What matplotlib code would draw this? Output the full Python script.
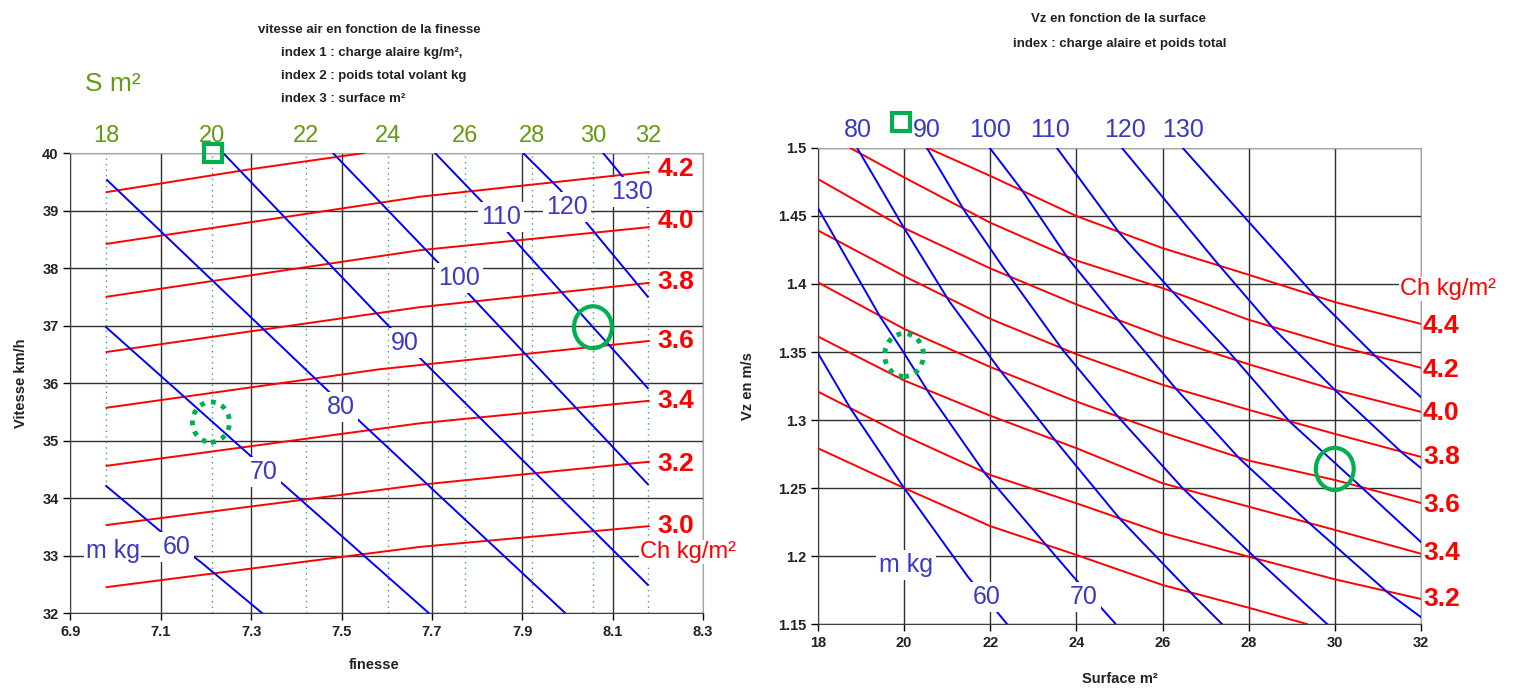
import numpy as np
import matplotlib
matplotlib.use("Agg")
import matplotlib.pyplot as plt
from matplotlib.patches import Ellipse

plt.rcParams['font.family'] = ['Liberation Sans', 'DejaVu Sans']

RED = '#ff0000'
BLUE = '#0000ff'
BLUE_TXT = '#3a3ac4'
OLIVE = '#669a10'
MARK = '#00b050'
GRID = '#303030'

# ---------------- left chart : vitesse air / finesse ----------------
left_ch = ["3.0", "3.2", "3.4", "3.6", "3.8", "4.0", "4.2", "4.4"]
left_ch_f = [
    [6.98, 7.674, 8.18],
    [6.98, 7.674, 8.18],
    [6.98, 7.674, 8.18],
    [6.98, 7.585, 8.18],
    [6.98, 7.674, 8.18],
    [6.98, 7.674, 8.18],
    [6.98, 7.674, 8.18],
    [6.98, 7.30, 7.55],
]
left_ch_v = [
    [32.45, 33.15, 33.51],
    [33.53, 34.23, 34.63],
    [34.56, 35.30, 35.69],
    [35.57, 36.24, 36.73],
    [36.54, 37.32, 37.74],
    [37.50, 38.31, 38.71],
    [38.42, 39.24, 39.67],
    [39.32, 39.72, 40.00],
]
left_m = ["60", "70", "80", "90", "100", "110", "120", "130"]
left_m_f = [
    [6.979, 7.098, 7.191, 7.324],
    [6.979, 7.302, 7.381, 7.693],
    [6.981, 7.468, 7.545, 7.995],
    [7.238, 7.607, 7.678, 8.178],
    [7.481, 7.713, 7.784, 8.178],
    [7.707, 7.811, 7.877, 8.178],
    [7.902, 7.984, 8.043, 8.178],
    [8.079, 8.178],
]
left_m_v = [
    [34.21, 33.43, 32.87, 32.00],
    [36.97, 34.71, 34.17, 32.00],
    [39.53, 35.88, 35.30, 32.00],
    [40.00, 36.97, 36.40, 32.49],
    [40.00, 38.10, 37.53, 34.24],
    [40.00, 39.15, 38.54, 35.91],
    [40.00, 39.36, 38.78, 37.50],
    [40.00, 39.06],
]
# label spots for the mass curves (finesse, vitesse)
left_m_lab_f = [7.136, 7.328, 7.499, 7.641, 7.760, 7.853, 7.999, 8.143]
left_m_lab_v = [33.15, 34.45, 35.58, 36.70, 37.83, 38.89, 39.06, 39.32]
left_ch_lab_v = [33.51, 34.59, 35.69, 36.73, 37.76, 38.82, 39.72]
# surface scale on top (S m2 -> finesse)
surf = [18, 20, 22, 24, 26, 28, 30, 32]
surf_f = [6.979, 7.2125, 7.4206, 7.6034, 7.7732, 7.9208, 8.0572, 8.1789]
surf_vmin = [34.2, 32, 32, 32, 32, 32, 32, 32]

# ---------------- right chart : Vz / surface ----------------
right_ch = ["3.0", "3.2", "3.4", "3.6", "3.8", "4.0", "4.2", "4.4"]
right_ch_s = [
    [18, 20, 22, 24, 26, 28, 29.35],
    [18, 20, 22, 24, 26, 28, 30, 32],
    [18, 20, 22, 24, 26, 28, 30, 32],
    [18, 20, 22, 24, 26, 28, 30, 32],
    [18, 20, 22, 24, 26, 28, 30, 32],
    [18, 20, 22, 24, 26, 28, 30, 32],
    [18.75, 20, 22, 24, 26, 28, 30, 32],
    [20.55, 22, 24, 26, 28, 30, 32],
]
right_ch_vz = [
    [1.2792, 1.2500, 1.2220, 1.2008, 1.1787, 1.1620, 1.1500],
    [1.3209, 1.2886, 1.2596, 1.2388, 1.2167, 1.1995, 1.1829, 1.1684],
    [1.3614, 1.3291, 1.3032, 1.2793, 1.2535, 1.2363, 1.2192, 1.2017],
    [1.4012, 1.3670, 1.3390, 1.3136, 1.2908, 1.2702, 1.2559, 1.2390],
    [1.4394, 1.4058, 1.3744, 1.3484, 1.3259, 1.3075, 1.2898, 1.2729],
    [1.4772, 1.4411, 1.4115, 1.3850, 1.3614, 1.3410, 1.3222, 1.3060],
    [1.5000, 1.4784, 1.4451, 1.4173, 1.3970, 1.3737, 1.3550, 1.3384],
    [1.5000, 1.4795, 1.4500, 1.4264, 1.4068, 1.3867, 1.3707],
]
right_m = ["60", "70", "80", "90", "100", "110", "120", "130"]
right_m_s = [
    [18, 18.75, 20, 21.48, 22.39],
    [18, 18.42, 19.44, 20, 20.59, 21.875, 23.33, 23.93, 24.9],
    [18.91, 20, 21.05, 22.22, 23.53, 25, 26.67, 27.38],
    [20.53, 21.41, 22.23, 23.68, 25, 26.47, 28.125, 29.82],
    [21.99, 22.73, 23.8, 25, 26.3, 27.78, 29.41, 31.25, 32],
    [23.55, 25, 26.19, 27.5, 28.95, 30.56, 32],
    [25.06, 27.27, 28.57, 30, 31.58, 32],
    [26.47, 29.55, 30.95, 32],
]
right_m_vz = [
    [1.3492, 1.3087, 1.2500, 1.1848, 1.1500],
    [1.4558, 1.4325, 1.3761, 1.3492, 1.3192, 1.2609, 1.2069, 1.1848, 1.1505],
    [1.5000, 1.4411, 1.3872, 1.3369, 1.2842, 1.2277, 1.1726, 1.1500],
    [1.5000, 1.4534, 1.4154, 1.3516, 1.3013, 1.2498, 1.1995, 1.1500],
    [1.5000, 1.4693, 1.4191, 1.3725, 1.3234, 1.2719, 1.2241, 1.1726, 1.1551],
    [1.5000, 1.4375, 1.3958, 1.3516, 1.2989, 1.2523, 1.2103],
    [1.5000, 1.4154, 1.3675, 1.3222, 1.2755, 1.2647],
    [1.5000, 1.3909, 1.3467, 1.3169],
]
right_m_lab_s = [18.93, 20.53, 21.99, 23.38, 25.12, 26.47]   # 80..130 on top
right_m_low_lab_s = [21.92, 24.18]                           # 60, 70 at bottom
right_ch_lab_vz = [1.1684, 1.2022, 1.2375, 1.2728, 1.3051, 1.3368, 1.3691]

# highlighted points (green)
left_square = (7.215, 40.0)
left_dotted = (7.211, 35.32)
left_circle = (8.0565, 36.97)
right_square = (19.93, 1.519)
right_dotted = (20.0, 1.3478)
right_circle = (30.0, 1.264)


def style_axes(ax):
    ax.grid(True, color=GRID, lw=1.0)
    ax.set_axisbelow(True)
    for s in ['top', 'right']:
        ax.spines[s].set_color('#a8a8a8')
    for s in ['left', 'bottom']:
        ax.spines[s].set_color('#404040')
    ax.tick_params(direction='out', length=5, width=1, colors='black',
                   labelsize=10.5)
    for t in ax.get_xticklabels() + ax.get_yticklabels():
        t.set_fontweight('bold')
        t.set_color('#222222')


fig = plt.figure(figsize=(15.15, 6.88), dpi=100)

# ================= left =================
ax1 = fig.add_axes([0.0465, 0.1090, 0.4175, 0.6686])
ax1.set_xlim(6.9, 8.3)
ax1.set_ylim(32, 40)
ax1.set_xticks(np.arange(6.9, 8.31, 0.2))
ax1.set_yticks(np.arange(32, 40.1, 1))
ax1.set_xticklabels(["%.1f" % t for t in np.arange(6.9, 8.31, 0.2)])
ax1.set_yticklabels(["%d" % t for t in np.arange(32, 40.1, 1)])
style_axes(ax1)

for f, vmin in zip(surf_f, surf_vmin):
    ax1.plot([f, f], [vmin, 40], ls=(0, (1, 3)), color='#3f9f6f', lw=1.0, zorder=1)
for f, s in zip(surf_f, surf):
    ax1.text(f, 40.29, str(s), color=OLIVE, fontsize=17, ha='center', va='center',
             clip_on=False)
ax1.text(6.994, 41.2, "S m²", color=OLIVE, fontsize=19, ha='center', va='center',
         clip_on=False)

for f, v in zip(left_ch_f, left_ch_v):
    ax1.plot(f, v, color=RED, lw=1.4, zorder=3)
for f, v in zip(left_m_f, left_m_v):
    ax1.plot(f, v, color=BLUE, lw=1.4, zorder=3)

for lab, f, v in zip(left_m, left_m_lab_f, left_m_lab_v):
    ax1.text(f, v, lab, color=BLUE_TXT, fontsize=18, ha='center', va='center', zorder=5,
             bbox=dict(facecolor='white', edgecolor='none', pad=2))
ax1.text(6.994, 33.08, "m kg", color=BLUE_TXT, fontsize=18, ha='center', va='center',
         zorder=5, bbox=dict(facecolor='white', edgecolor='none', pad=1))
for lab, v in zip(left_ch[:-1], left_ch_lab_v):
    ax1.text(8.200, v, lab, color=RED, fontsize=19, fontweight='bold',
             ha='left', va='center', zorder=5)
ax1.text(8.267, 33.06, "Ch kg/m²", color=RED, fontsize=17, ha='center', va='center',
         zorder=6, clip_on=False, bbox=dict(facecolor='white', edgecolor='none', pad=1))

ax1.plot(*left_square, marker='s', ms=13, mfc='none', mec=MARK, mew=3, clip_on=False, zorder=7)
ax1.add_patch(Ellipse(left_dotted, 0.082, 0.70, fill=False, ec=MARK, lw=3.5,
                      ls=(0, (1, 1.3)), zorder=7))
ax1.add_patch(Ellipse(left_circle, 0.084, 0.73, fill=False, ec=MARK, lw=3, zorder=7))

ax1.set_xlabel("finesse", fontsize=10.5, fontweight='bold', color='#222222')
ax1.xaxis.set_label_coords(0.48, -0.098)
ax1.set_ylabel("Vitesse km/h", fontsize=10.5, fontweight='bold', color='#222222')
ax1.yaxis.set_label_coords(-0.067, 0.5)

fig.text(0.1703, 0.957, "vitesse air en fonction de la finesse", fontsize=9.5,
         fontweight='bold', ha='left', va='center', color='#222222')
for i, line in enumerate(["index 1 : charge alaire kg/m²,",
                          "index 2 : poids total volant kg",
                          "index 3 : surface m²"]):
    fig.text(0.1855, 0.923 - i * 0.0335, line, fontsize=9.5, fontweight='bold',
             ha='left', va='center', color='#222222')

# ================= right =================
ax2 = fig.add_axes([0.5399, 0.0930, 0.3980, 0.6919])
ax2.set_xlim(18, 32)
ax2.set_ylim(1.15, 1.5)
ax2.set_xticks(np.arange(18, 32.1, 2))
ax2.set_yticks(np.arange(1.15, 1.501, 0.05))
ax2.set_yticklabels(["%g" % round(t, 2) for t in np.arange(1.15, 1.501, 0.05)])
style_axes(ax2)

for s, vz in zip(right_ch_s, right_ch_vz):
    ax2.plot(s, vz, color=RED, lw=1.4, zorder=3)
for s, vz in zip(right_m_s, right_m_vz):
    ax2.plot(s, vz, color=BLUE, lw=1.4, zorder=3)

for lab, s in zip(right_m[2:], right_m_lab_s):
    ax2.text(s, 1.5133, lab, color=BLUE_TXT, fontsize=18, ha='center', va='center',
             clip_on=False)
for lab, s in zip(right_m[:2], right_m_low_lab_s):
    ax2.text(s, 1.1699, lab, color=BLUE_TXT, fontsize=18, ha='center', va='center',
             zorder=5, bbox=dict(facecolor='white', edgecolor='none', pad=2))
ax2.text(20.04, 1.1934, "m kg", color=BLUE_TXT, fontsize=18, ha='center', va='center',
         zorder=5, bbox=dict(facecolor='white', edgecolor='none', pad=2))
for lab, vz in zip(right_ch[1:], right_ch_lab_vz):
    ax2.text(32.05, vz, lab, color=RED, fontsize=19, fontweight='bold',
             ha='left', va='center', clip_on=False)
ax2.text(32.63, 1.3963, "Ch kg/m²", color=RED, fontsize=17, ha='center', va='center',
         zorder=6, clip_on=False, bbox=dict(facecolor='white', edgecolor='none', pad=1))

ax2.plot(*right_square, marker='s', ms=13, mfc='none', mec=MARK, mew=3, clip_on=False, zorder=7)
ax2.add_patch(Ellipse(right_dotted, 0.9, 0.0316, fill=False, ec=MARK, lw=3.5,
                      ls=(0, (1, 1.3)), zorder=7))
ax2.add_patch(Ellipse(right_circle, 0.88, 0.031, fill=False, ec=MARK, lw=3, zorder=7))

ax2.set_xlabel("Surface m²", fontsize=10.5, fontweight='bold', color='#222222')
ax2.xaxis.set_label_coords(0.5, -0.1)
ax2.set_ylabel("Vz en m/s", fontsize=10.5, fontweight='bold', color='#222222')
ax2.yaxis.set_label_coords(-0.104, 0.5)

fig.text(0.738, 0.972, "Vz en fonction de la surface", fontsize=9.5,
         fontweight='bold', ha='center', va='center', color='#222222')
fig.text(0.739, 0.9355, "index : charge alaire et poids total", fontsize=9.5,
         fontweight='bold', ha='center', va='center', color='#222222')

fig.savefig("out.png", dpi=100)
